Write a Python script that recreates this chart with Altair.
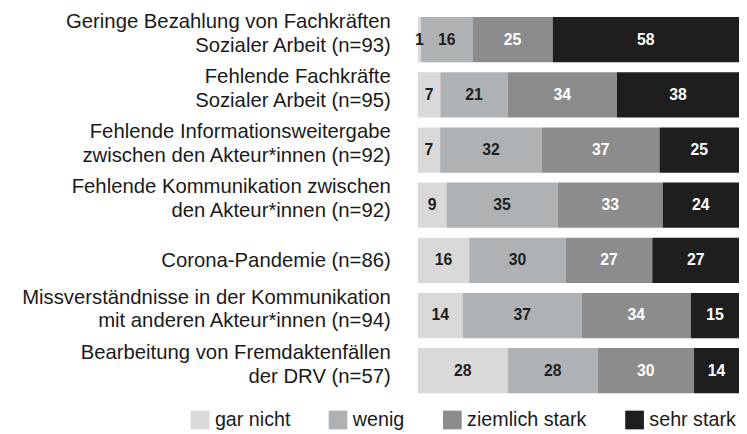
import altair as alt
import pandas as pd

categories = [
    "Geringe Bezahlung von Fachkräften|Sozialer Arbeit (n=93)",
    "Fehlende Fachkräfte|Sozialer Arbeit (n=95)",
    "Fehlende Informationsweitergabe|zwischen den Akteur*innen (n=92)",
    "Fehlende Kommunikation zwischen|den Akteur*innen (n=92)",
    "Corona-Pandemie (n=86)",
    "Missverständnisse in der Kommunikation|mit anderen Akteur*innen (n=94)",
    "Bearbeitung von Fremdaktenfällen|der DRV (n=57)",
]
levels = ["gar nicht", "wenig", "ziemlich stark", "sehr stark"]
gar_nicht = [1, 7, 7, 9, 16, 14, 28]
wenig = [16, 21, 32, 35, 30, 37, 28]
ziemlich_stark = [25, 34, 37, 33, 27, 34, 30]
sehr_stark = [58, 38, 25, 24, 27, 15, 14]
colors = ["#d9d9d9", "#afb2b5", "#8c8c8c", "#1e1e1e"]

series = [gar_nicht, wenig, ziemlich_stark, sehr_stark]
rows = []
for ci, cat in enumerate(categories):
    for li, lev in enumerate(levels):
        rows.append({"category": cat, "level": lev, "order": li, "value": series[li][ci]})
df = pd.DataFrame(rows)

FONT = "Liberation Sans"

base = alt.Chart(df).transform_stack(
    stack="value",
    groupby=["category"],
    as_=["x0", "x1"],
    offset="normalize",
    sort=[alt.SortField("order", order="ascending")],
).transform_calculate(mid="(datum.x0 + datum.x1) / 2")

y = alt.Y(
    "category:N",
    sort=categories,
    title=None,
    scale=alt.Scale(paddingInner=0.18, paddingOuter=0.09),
    axis=alt.Axis(
        labelExpr="split(datum.label, '|')",
        labelFontSize=20.6,
        labelFont=FONT,
        labelColor="#1a1a1a",
        labelLineHeight=24,
        labelPadding=28,
        labelOffset={
            "condition": {"test": "indexof(datum.value, '|') >= 0", "value": -18},
            "value": 1,
        },
        ticks=False,
        domain=False,
        labelLimit=600,
        labelAlign="right",
        labelBaseline="middle",
    ),
)

xscale = alt.Scale(domain=[0, 1], nice=False, zero=True)

bars = base.mark_bar().encode(
    x=alt.X("x0:Q", axis=None, scale=xscale),
    x2="x1:Q",
    y=y,
    color=alt.Color(
        "level:N",
        sort=levels,
        scale=alt.Scale(domain=levels, range=colors),
        legend=alt.Legend(
            orient="none",
            legendX=-231,
            legendY=404,
            direction="horizontal",
            title=None,
            symbolType="square",
            symbolSize=361,
            symbolStrokeWidth=0,
            symbolOpacity=1,
            labelFontSize=20,
            labelFont=FONT,
            labelColor="#1a1a1a",
            labelOffset=5,
            columnPadding=38,
            padding=0,
            labelLimit=300,
        ),
    ),
)

text = base.mark_text(fontSize=16, fontWeight="bold", font=FONT).encode(
    x=alt.X("mid:Q", axis=None, scale=xscale),
    y=y,
    text=alt.Text("value:Q"),
    color=alt.condition("datum.order >= 2", alt.value("#ffffff"), alt.value("#1e1e1e")),
)

chart = (
    alt.layer(bars, text)
    .properties(
        width=326,
        height=392,
        padding={"left": 13, "top": 0, "right": 0, "bottom": 0},
        background="white",
    )
    .configure_view(stroke=None)
)

chart.save("out.html", embed_options={"renderer": "svg", "actions": False})
